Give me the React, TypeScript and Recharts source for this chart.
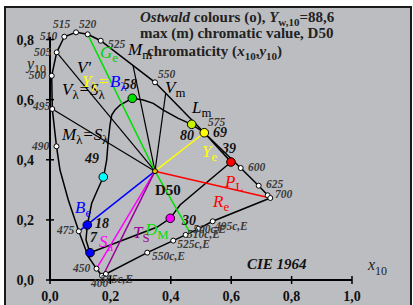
import React from 'react';
import { ComposedChart, Scatter, XAxis, YAxis, ReferenceLine, ReferenceDot, Cell } from 'recharts';

const FONT = "'Liberation Serif', 'Times New Roman', serif";

const xTicks = [0, 0.2, 0.4, 0.6, 0.8, 1.0];
const yTicks = [0, 0.2, 0.4, 0.6, 0.8];

// spectral locus, 400 nm -> 700 nm (CIE 1964)
const locus = [
  { x: 0.1722, y: 0.0143 }, { x: 0.154, y: 0.0376 }, { x: 0.1268, y: 0.0775 },
  { x: 0.0954, y: 0.162 }, { x: 0.0606, y: 0.266 }, { x: 0.0331, y: 0.366 },
  { x: 0.0215, y: 0.4448 }, { x: 0.0076, y: 0.5689 }, { x: 0.0056, y: 0.6796 },
  { x: 0.0222, y: 0.7575 }, { x: 0.0474, y: 0.8094 }, { x: 0.0861, y: 0.824 },
  { x: 0.1248, y: 0.8174 }, { x: 0.1679, y: 0.7961 }, { x: 0.3477, y: 0.6577 },
  { x: 0.5109, y: 0.49 }, { x: 0.6315, y: 0.3726 }, { x: 0.691, y: 0.3137 },
  { x: 0.7209, y: 0.2818 }, { x: 0.7295, y: 0.2728 },
];
// purple line 700 -> 400 with the compensative marks
const purpleLine = [
  { x: 0.7295, y: 0.2728 }, { x: 0.5387, y: 0.1953 }, { x: 0.491, y: 0.17 },
  { x: 0.449, y: 0.15 }, { x: 0.408, y: 0.131 }, { x: 0.322, y: 0.091 },
  { x: 0.185, y: 0.02 }, { x: 0.1722, y: 0.0143 },
];
const locusMarks = [
  { x: 0.1722, y: 0.0143 }, { x: 0.154, y: 0.0376 }, { x: 0.0954, y: 0.162 },
  { x: 0.0215, y: 0.4448 }, { x: 0.0076, y: 0.5689 }, { x: 0.0056, y: 0.6796 },
  { x: 0.0222, y: 0.7575 }, { x: 0.0474, y: 0.8094 }, { x: 0.0861, y: 0.824 },
  { x: 0.1248, y: 0.8174 }, { x: 0.1679, y: 0.7961 }, { x: 0.3477, y: 0.6577 },
  { x: 0.5109, y: 0.49 }, { x: 0.6315, y: 0.3726 }, { x: 0.691, y: 0.3137 },
  { x: 0.7209, y: 0.2818 }, { x: 0.7295, y: 0.2728 },
  { x: 0.5387, y: 0.1953 }, { x: 0.491, y: 0.17 }, { x: 0.449, y: 0.15 },
  { x: 0.408, y: 0.131 }, { x: 0.322, y: 0.091 }, { x: 0.185, y: 0.02 },
];

const d50 = { x: 0.3477, y: 0.362 };
// black lines from D50 to the locus
const blackSpokes = [
  { x: 0.0222, y: 0.7575 }, { x: 0.0076, y: 0.5689 },
  { x: 0.2748, y: 0.7139 }, { x: 0.3831, y: 0.6214 },
];
const greenLine = [{ x: 0.1248, y: 0.8174 }, d50, { x: 0.4636, y: 0.1574 }];
const yellowEnd = { x: 0.5109, y: 0.49 };
const redEnd = { x: 0.7295, y: 0.2728 };
const blueEnd = { x: 0.0954, y: 0.162 };
const magentaEnd = { x: 0.154, y: 0.0376 };
const purpleEnd = { x: 0.1765, y: 0.0166 };

// Ostwald max chromatic colours (closed curve)
const ostwald = [
  { x: 0.1765, y: 0.3427 }, { x: 0.1798, y: 0.356 }, { x: 0.1877, y: 0.3992 },
  { x: 0.193, y: 0.4657 }, { x: 0.1987, y: 0.5156 }, { x: 0.2043, y: 0.5489 },
  { x: 0.2152, y: 0.5655 }, { x: 0.2318, y: 0.5822 }, { x: 0.2725, y: 0.6045 },
  { x: 0.3089, y: 0.5988 }, { x: 0.342, y: 0.5878 }, { x: 0.3752, y: 0.5655 },
  { x: 0.4248, y: 0.5379 }, { x: 0.4692, y: 0.518 }, { x: 0.5109, y: 0.49 },
  { x: 0.5993, y: 0.3925 }, { x: 0.4305, y: 0.2495 }, { x: 0.3983, y: 0.2053 },
  { x: 0.3533, y: 0.1753 }, { x: 0.1325, y: 0.0908 }, { x: 0.1192, y: 0.1331 },
  { x: 0.1235, y: 0.183 }, { x: 0.1381, y: 0.2552 }, { x: 0.1546, y: 0.2937 },
  { x: 0.1765, y: 0.3427 },
];
const ostwaldDots = [
  { x: 0.1765, y: 0.3427 }, { x: 0.2725, y: 0.6045 }, { x: 0.4692, y: 0.518 },
  { x: 0.5109, y: 0.49 }, { x: 0.5993, y: 0.3925 }, { x: 0.3983, y: 0.2053 },
  { x: 0.1325, y: 0.0908 }, { x: 0.1235, y: 0.183 },
];
const dotColors = ['#00ffff', '#00e000', '#c8f000', '#ffff00', '#ff0000', '#ff00ff', '#0000ff', '#0000ff'];

const waveLabels: [string, number, number][] = [
  ['515', 0.0099, 0.838], ['520', 0.096, 0.838], ['510', -0.033, 0.798], ['525', 0.192, 0.772],
  ['505', -0.053, 0.745], ['500', -0.07, 0.669], ['495', -0.056, 0.566], ['490', -0.06, 0.432],
  ['475', 0.023, 0.153], ['450', 0.076, 0.0266], ['565c,E', 0.166, -0.01], ['400', 0.136, -0.0233],
  ['550', 0.358, 0.672], ['575', 0.523, 0.512], ['600', 0.656, 0.363], ['625', 0.715, 0.306],
  ['700', 0.745, 0.273], ['495c,E', 0.546, 0.166], ['500c,E', 0.474, 0.156],
  ['510c,E', 0.454, 0.14], ['525c,E', 0.421, 0.106], ['550c,E', 0.338, 0.0665],
];
const valueLabels: [string, number, number][] = [
  ['58', 0.2417, 0.635], ['80', 0.4305, 0.4657], ['69', 0.5397, 0.4757], ['39', 0.5695, 0.4225],
  ['30', 0.437, 0.183], ['7', 0.1325, 0.1264], ['18', 0.149, 0.173], ['49', 0.1159, 0.3892],
];
const symbolLabels: [string[], number, number][] = [
  [['G', 'e'], 0.1656, 0.7385], [['M', 'm'], 0.2583, 0.7485], [["V'"], 0.0894, 0.6886],
  [['V', 'λ', '=S', 'λ'], 0.0397, 0.6154], [['Y', 'λ', '='], 0.106, 0.642], [['B', 'λ'], 0.1987, 0.642],
  [['M', 'λ', '=S', 'λ'], 0.0397, 0.4657], [['V', 'm'], 0.3808, 0.622], [['L', 'm'], 0.4702, 0.5555],
  [['Y', 'e'], 0.5033, 0.4092], [['P', 'L'], 0.5795, 0.3094], [['R', 'e'], 0.5397, 0.2429],
  [['D', 'M'], 0.3146, 0.1497], [['T', 'S'], 0.2748, 0.1397], [['S', 'a'], 0.1623, 0.1098],
  [['B', 'e'], 0.0828, 0.2229],
];
const symbolColors = ['#00d000', '#000', '#000', '#000', '#ffff00', '#0000ff', '#000', '#000', '#000',
  '#ffff00', '#ff0000', '#ff0000', '#00e000', '#990099', '#ff00ff', '#0000ff'];

const fmt = (v: number) => v.toFixed(1).replace('.', ',');

const XTick = (p: any) => (
  <g>
    <line x1={p.x} x2={p.x} y1={p.y - 4} y2={p.y + 4} stroke="#000" strokeWidth={1.5} />
    <text x={p.x} y={p.y + 21} textAnchor="middle" fontFamily={FONT} fontSize={14} fontWeight="bold" fill="#111">
      {fmt(p.payload.value)}
    </text>
  </g>
);
const YTick = (p: any) => (
  <g>
    <line x1={p.x - 4} x2={p.x + 4} y1={p.y} y2={p.y} stroke="#000" strokeWidth={1.5} />
    <text x={p.x - 16} y={p.y + 5} textAnchor="end" fontFamily={FONT} fontSize={14} fontWeight="bold" fill="#111">
      {fmt(p.payload.value)}
    </text>
  </g>
);

function Rich({ cx, cy, parts, fill, size = 17, shift = 4 }: any) {
  return (
    <text x={cx} y={cy} fontFamily={FONT} fontSize={size} fill={fill} fontStyle="italic">
      {parts.map((t: string, i: number) => {
        const sub = i % 2 === 1;
        return (
          <tspan key={i} dy={sub ? shift : i > 0 ? -shift : 0} fontSize={sub ? size * 0.75 : size}
            fontStyle={sub ? 'normal' : 'italic'}>{t}</tspan>
        );
      })}
    </text>
  );
}

const hidden = () => null;
const whiteMark = (p: any) => <circle cx={p.cx} cy={p.cy} r={2.5} fill="#fff" stroke="#000" strokeWidth={1} />;
const colorDot = (p: any) => <circle cx={p.cx} cy={p.cy} r={4.3} fill={p.fill} stroke="#000" strokeWidth={1} />;

function spoke(end: { x: number; y: number }, color: string, key: string, width = 1.3) {
  return (
    <Scatter key={key} data={[d50, end]} line={{ stroke: color, strokeWidth: width }} shape={hidden}
      isAnimationActive={false} />
  );
}

export default function App() {
  return (
    <div style={{ position: 'absolute', left: 0, top: 0, width: 413, height: 305, overflow: 'hidden', background: '#fff' }}>
      <div style={{ position: 'absolute', left: 4, top: 6, width: 408, height: 310, boxSizing: 'border-box',
        border: '2px solid #1a1a1a', background: '#bcbdc1' }} />
      <div style={{ position: 'absolute', left: 0, top: 0 }}>
        <ComposedChart width={413} height={305} margin={{ top: 9.5, right: 30.8, bottom: 0, left: 0 }}>
          <XAxis type="number" dataKey="x" domain={[0, 1.1]} ticks={xTicks} interval={0} height={25}
            axisLine={false} tickLine={false} tickSize={0} tickMargin={0} tick={(p: any) => <XTick {...p} />} />
          <YAxis type="number" dataKey="y" domain={[0, 0.9]} ticks={yTicks} interval={0} width={50}
            axisLine={false} tickLine={false} tickSize={0} tickMargin={0} tick={(p: any) => <YTick {...p} />} />
          <ReferenceLine segment={[{ x: 0, y: 0 }, { x: 1, y: 0 }]} stroke="#000" strokeWidth={2} ifOverflow="visible" />
          <ReferenceLine segment={[{ x: 0, y: 0 }, { x: 0, y: 0.809 }]} stroke="#000" strokeWidth={2} ifOverflow="visible" />

          {blackSpokes.map((e, i) => spoke(e, '#000', 'b' + i, 1.2))}
          <Scatter data={locus} line={{ stroke: '#000', strokeWidth: 1.5 }} shape={hidden} isAnimationActive={false} />
          <Scatter data={purpleLine} line={{ stroke: '#000', strokeWidth: 1.5 }} shape={hidden} isAnimationActive={false} />
          <Scatter data={ostwald} line={{ stroke: '#000', strokeWidth: 1.5 }} shape={hidden} isAnimationActive={false} />
          <Scatter data={greenLine} line={{ stroke: '#00e000', strokeWidth: 1.5 }} shape={hidden} isAnimationActive={false} />
          {spoke(yellowEnd, '#ffff00', 'y', 1.5)}
          {spoke(redEnd, '#ff0000', 'r', 1.5)}
          {spoke(blueEnd, '#0000ff', 'bl', 1.5)}
          {spoke(magentaEnd, '#ff00ff', 'm', 1.5)}
          {spoke(purpleEnd, '#990099', 'p', 1.5)}
          <Scatter data={locusMarks} shape={whiteMark} isAnimationActive={false} />
          <Scatter data={ostwaldDots} shape={colorDot} isAnimationActive={false}>
            {ostwaldDots.map((d, i) => <Cell key={i} fill={dotColors[i]} />)}
          </Scatter>
          <Scatter data={[d50]} shape={(p: any) => <circle cx={p.cx} cy={p.cy} r={2.5} fill="#e0c000" stroke="#000" />}
            isAnimationActive={false} />

          {waveLabels.map(([t, x, y], i) => (
            <ReferenceDot key={'w' + i} x={x} y={y} r={0} ifOverflow="visible"
              shape={(p: any) => (
                <text x={p.cx} y={p.cy} fontFamily={FONT} fontSize={11.5} fontStyle="italic" fontWeight="bold" fill="#3a3a3a">{t}</text>
              )} />
          ))}
          {valueLabels.map(([t, x, y], i) => (
            <ReferenceDot key={'v' + i} x={x} y={y} r={0} ifOverflow="visible"
              shape={(p: any) => (
                <text x={p.cx} y={p.cy} fontFamily={FONT} fontSize={14} fontStyle="italic" fontWeight="bold" fill="#111">{t}</text>
              )} />
          ))}
          {symbolLabels.map(([parts, x, y], i) => (
            <ReferenceDot key={'s' + i} x={x} y={y} r={0} ifOverflow="visible"
              shape={(p: any) => <Rich cx={p.cx} cy={p.cy} parts={parts} fill={symbolColors[i]} />} />
          ))}
          <ReferenceDot x={0.3477} y={0.2828} r={0} ifOverflow="visible"
            shape={(p: any) => <text x={p.cx} y={p.cy} fontFamily={FONT} fontSize={15} fontWeight="bold" fill="#111">D50</text>} />
          <ReferenceDot x={0.6523} y={0.0366} r={0} ifOverflow="visible"
            shape={(p: any) => <text x={p.cx} y={p.cy} fontFamily={FONT} fontSize={15} fontWeight="bold" fontStyle="italic" fill="#111">CIE 1964</text>} />
          <ReferenceDot x={1.053} y={0.0333} r={0} ifOverflow="visible"
            shape={(p: any) => <Rich cx={p.cx} cy={p.cy} parts={['x', '10']} fill="#222" size={16} shift={5} />} />
          <ReferenceDot x={-0.0762} y={0.702} r={0} ifOverflow="visible"
            shape={(p: any) => <Rich cx={p.cx} cy={p.cy} parts={['y', '10']} fill="#222" size={16} shift={4} />} />

          <ReferenceDot x={0.298} y={0.8583} r={0} ifOverflow="visible"
            shape={(p: any) => (
              <text x={p.cx} y={p.cy} fontFamily={FONT} fontSize={15} fontWeight="bold" fill="#222" style={{ whiteSpace: 'pre' }}>
                <tspan fontStyle="italic">Ostwald</tspan>
                <tspan> colours (o), </tspan>
                <tspan fontStyle="italic">Y</tspan>
                <tspan fontSize={11} dy={4}>w,10</tspan>
                <tspan dy={-4}>=88,6</tspan>
              </text>
            )} />
          <ReferenceDot x={0.298} y={0.805} r={0} ifOverflow="visible"
            shape={(p: any) => (
              <text x={p.cx} y={p.cy} fontFamily={FONT} fontSize={15} fontWeight="bold" fill="#222">max (m) chromatic value, D50</text>
            )} />
          <ReferenceDot x={0.3212} y={0.7452} r={0} ifOverflow="visible"
            shape={(p: any) => (
              <text x={p.cx} y={p.cy} fontFamily={FONT} fontSize={15} fontWeight="bold" fill="#222" style={{ whiteSpace: 'pre' }}>
                <tspan>chromaticity (</tspan>
                <tspan fontStyle="italic">x</tspan>
                <tspan fontSize={11} dy={4}>10</tspan>
                <tspan dy={-4}>,</tspan>
                <tspan fontStyle="italic">y</tspan>
                <tspan fontSize={11} dy={4}>10</tspan>
                <tspan dy={-4}>)</tspan>
              </text>
            )} />
        </ComposedChart>
      </div>
    </div>
  );
}
